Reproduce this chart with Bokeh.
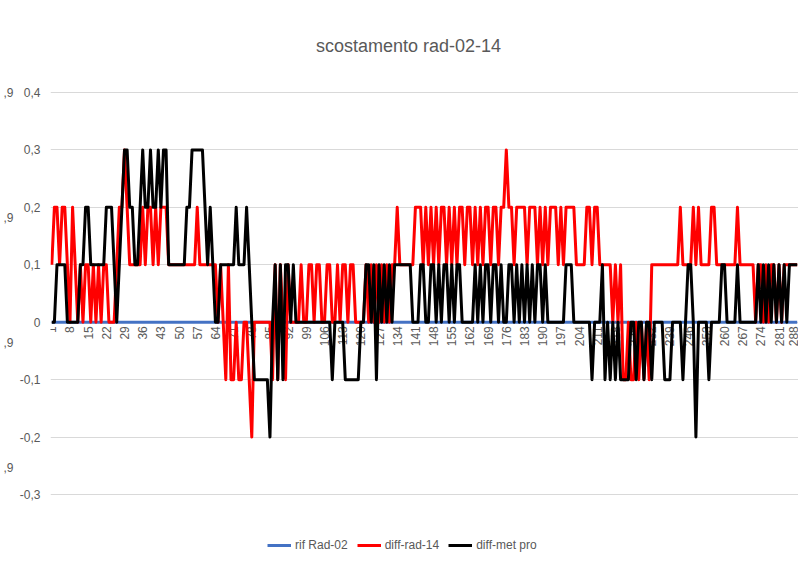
import math
from bokeh.plotting import figure
from bokeh.models import (FixedTicker, CustomJSTickFormatter, Legend, LegendItem,
                          Label, ColumnDataSource, Range1d, LinearAxis)
from bokeh.embed import file_html
from bokeh.resources import INLINE

# ---------------- data ----------------
categories = list(range(1, 289))

rif_rad_02 = [0.0] * 288

diff_rad_14 = [
    0.1, 0.2, 0.2, 0.1, 0.2, 0.2, 0.1,      # 1-7
    0.0, 0.2, 0.1, 0.0, 0.1, 0.0, 0.1,      # 8-14
    0.1, 0.0, 0.1, 0.0, 0.1, 0.0, 0.1,      # 15-21
    0.1, 0.0, 0.0, 0.0, 0.1, 0.2, 0.2,      # 22-28
    0.3, 0.2, 0.1, 0.1, 0.1, 0.1, 0.1,      # 29-35
    0.2, 0.1, 0.2, 0.2, 0.1, 0.2, 0.1,      # 36-42
    0.2, 0.2, 0.2, 0.1, 0.1, 0.1, 0.1,      # 43-49
    0.1, 0.1, 0.1, 0.1, 0.1, 0.1, 0.1,      # 50-56
    0.2, 0.1, 0.1, 0.1, 0.1, 0.1, 0.1,      # 57-63
    0.1, 0.0, 0.1, 0.0, -0.1, 0.1, -0.1,    # 64-70
    -0.1, 0.0, -0.1, -0.1, 0.0, 0.0, -0.1,  # 71-77
    -0.2, 0.0, 0.0, 0.0, 0.0, 0.0, 0.0,     # 78-84
    0.0, -0.1, 0.1, -0.1, 0.1, 0.0, -0.1,   # 85-91
    0.1, 0.0, 0.0, 0.0, 0.0, 0.1, 0.0,      # 92-98
    0.0, 0.1, 0.1, 0.0, 0.1, 0.1, 0.0,      # 99-105
    0.0, 0.1, 0.1, 0.0, 0.0, 0.1, 0.0,      # 106-112
    0.1, 0.1, 0.0, 0.1, 0.1, 0.0, 0.0,      # 113-119
    0.0, 0.0, 0.1, 0.0, 0.1, 0.0, 0.1,      # 120-126
    0.0, 0.1, 0.0, 0.1, 0.0, 0.1, 0.1,      # 127-133
    0.2, 0.1, 0.1, 0.1, 0.1, 0.1, 0.1,      # 134-140
    0.2, 0.2, 0.2, 0.1, 0.2, 0.1, 0.2,      # 141-147
    0.1, 0.2, 0.1, 0.2, 0.2, 0.1, 0.2,      # 148-154
    0.1, 0.2, 0.1, 0.2, 0.2, 0.1, 0.2,      # 155-161
    0.2, 0.1, 0.2, 0.1, 0.2, 0.1, 0.2,      # 162-168
    0.2, 0.1, 0.2, 0.2, 0.1, 0.2, 0.2,      # 169-175
    0.3, 0.2, 0.2, 0.1, 0.2, 0.2, 0.2,      # 176-182
    0.2, 0.1, 0.2, 0.2, 0.2, 0.1, 0.2,      # 183-189
    0.1, 0.2, 0.1, 0.2, 0.2, 0.2, 0.1,      # 190-196
    0.2, 0.1, 0.2, 0.2, 0.2, 0.2, 0.1,      # 197-203
    0.1, 0.1, 0.1, 0.2, 0.2, 0.1, 0.2,      # 204-210
    0.2, 0.1, 0.1, 0.1, 0.1, 0.1, 0.0,      # 211-217
    0.1, 0.0, 0.1, -0.1, -0.1, 0.0, -0.1,   # 218-224
    -0.1, 0.0, -0.1, 0.0, -0.1, 0.0, -0.1,  # 225-231
    0.1, 0.1, 0.1, 0.1, 0.1, 0.1, 0.1,      # 232-238
    0.1, 0.1, 0.1, 0.1, 0.2, 0.1, 0.1,      # 239-245
    0.1, 0.1, 0.2, 0.1, 0.2, 0.1, 0.1,      # 246-252
    0.1, 0.1, 0.2, 0.2, 0.1, 0.1, 0.1,      # 253-259
    0.1, 0.1, 0.1, 0.1, 0.1, 0.2, 0.1,      # 260-266
    0.1, 0.1, 0.1, 0.1, 0.1, 0.0, 0.1,      # 267-273
    0.1, 0.0, 0.1, 0.0, 0.1, 0.1, 0.0,      # 274-280
    0.1, 0.0, 0.1, 0.1, 0.1, 0.1, 0.1, 0.1, # 281-288
]

diff_met_pro = [
    0.0, 0.0, 0.1, 0.1, 0.1, 0.1, 0.0,      # 1-7
    0.0, 0.0, 0.0, 0.0, 0.1, 0.1, 0.2,      # 8-14
    0.2, 0.1, 0.1, 0.1, 0.1, 0.1, 0.1,      # 15-21
    0.2, 0.2, 0.2, 0.1, 0.0, 0.1, 0.2,      # 22-28
    0.3, 0.3, 0.2, 0.2, 0.1, 0.1, 0.2,      # 29-35
    0.3, 0.2, 0.2, 0.3, 0.2, 0.2, 0.3,      # 36-42
    0.2, 0.3, 0.3, 0.1, 0.1, 0.1, 0.1,      # 43-49
    0.1, 0.1, 0.1, 0.2, 0.2, 0.3, 0.3,      # 50-56
    0.3, 0.3, 0.3, 0.2, 0.1, 0.2, 0.1,      # 57-63
    0.0, 0.0, 0.1, 0.1, 0.1, 0.1, 0.1,      # 64-70
    0.1, 0.2, 0.1, 0.1, 0.1, 0.2, 0.1,      # 71-77
    0.0, -0.1, -0.1, -0.1, -0.1, -0.1, -0.1,  # 78-84
    -0.2, 0.0, 0.1, -0.1, 0.1, -0.1, 0.1,   # 85-91
    0.1, 0.0, 0.1, 0.0, 0.0, 0.0, 0.0,      # 92-98
    0.0, 0.0, 0.0, 0.0, 0.0, 0.0, 0.0,      # 99-105
    0.0, 0.0, 0.0, -0.1, 0.0, 0.0, 0.0,     # 106-112
    0.0, -0.1, -0.1, -0.1, -0.1, -0.1, -0.1,  # 113-119
    0.0, 0.0, 0.1, 0.1, 0.0, 0.1, -0.1,     # 120-126
    0.1, 0.0, 0.1, 0.0, 0.1, 0.0, 0.1,      # 127-133
    0.1, 0.1, 0.1, 0.1, 0.1, 0.1, 0.0,      # 134-140
    0.0, 0.0, 0.1, 0.1, 0.0, 0.0, 0.1,      # 141-147
    0.1, 0.0, 0.1, 0.0, 0.1, 0.1, 0.0,      # 148-154
    0.1, 0.0, 0.1, 0.1, 0.0, 0.0, 0.0,      # 155-161
    0.0, 0.0, 0.1, 0.0, 0.1, 0.0, 0.1,      # 162-168
    0.1, 0.0, 0.1, 0.1, 0.0, 0.1, 0.0,      # 169-175
    0.0, 0.1, 0.1, 0.0, 0.1, 0.0, 0.1,      # 176-182
    0.0, 0.1, 0.0, 0.1, 0.0, 0.1, 0.1,      # 183-189
    0.0, 0.1, 0.0, 0.0, 0.0, 0.0, 0.0,      # 190-196
    0.0, 0.0, 0.1, 0.1, 0.1, 0.0, 0.0,      # 197-203
    0.0, 0.0, 0.0, 0.0, 0.0, -0.1, 0.0,     # 204-210
    0.0, 0.0, 0.1, -0.1, 0.0, -0.1, 0.0,    # 211-217
    -0.1, 0.0, -0.1, -0.1, -0.1, -0.1, 0.0, # 218-224
    0.0, -0.1, 0.0, 0.0, -0.1, 0.0, 0.0,    # 225-231
    -0.1, 0.0, 0.0, 0.0, 0.0, -0.1, -0.1,   # 232-238
    -0.1, 0.0, 0.0, 0.0, 0.0, -0.1, 0.0,    # 239-245
    0.1, 0.1, 0.0, -0.2, 0.0, 0.0, 0.0,     # 246-252
    0.0, -0.1, 0.0, 0.0, 0.0, 0.0, 0.1,     # 253-259
    0.1, 0.0, 0.0, 0.0, 0.0, 0.1, 0.0,      # 260-266
    0.0, 0.0, 0.0, 0.0, 0.0, 0.0, 0.1,      # 267-273
    0.0, 0.1, 0.0, 0.1, 0.0, 0.1, 0.0,      # 274-280
    0.1, 0.0, 0.1, 0.0, 0.1, 0.1, 0.1, 0.1, # 281-288
]

x_tick_labels = [1, 8, 15, 22, 29, 36, 43, 50, 57, 64, 71, 78, 85, 92, 99, 106,
                 113, 120, 127, 134, 141, 148, 155, 162, 169, 176, 183, 190, 197,
                 204, 211, 218, 225, 232, 239, 246, 253, 260, 267, 274, 281, 288]
y_ticks = [-0.3, -0.2, -0.1, 0.0, 0.1, 0.2, 0.3, 0.4]
# fragment of a neighbouring axis, cut at the left edge of the screenshot
side_ticks = [0, 1, 2, 3]
side_label = ",9"

title_text = "scostamento rad-02-14"
series_names = ["rif Rad-02", "diff-rad-14", "diff-met pro"]
series_colors = ["#4472C4", "#FF0000", "#000000"]

# ---------------- layout (pixels) ----------------
W, H = 798, 564
LEFT = 50                 # plot area left edge
AXIS_TOP, AXIS_BOTTOM = 92, 494   # pixel rows of 0.4 and -0.3
Y_MIN, Y_MAX = -0.3, 0.4
ppu = (AXIS_BOTTOM - AXIS_TOP) / (Y_MAX - Y_MIN)   # pixels per unit
y_start = Y_MIN - (H - AXIS_BOTTOM) / ppu
y_end = Y_MAX + AXIS_TOP / ppu

side_ppu = 125.0
side_start = side_ticks[-1] - (H - AXIS_TOP) / side_ppu
side_end = side_ticks[-1] + AXIS_TOP / side_ppu

FONT = "Liberation Sans"
GRAY = "#595959"

p = figure(width=W, height=H, output_backend="svg", toolbar_location=None,
           x_range=Range1d(0.5, 288.5), y_range=Range1d(y_start, y_end),
           min_border_left=LEFT, min_border_right=0, min_border_top=0,
           min_border_bottom=0)
p.outline_line_color = None
p.background_fill_color = "white"
p.border_fill_color = "white"

# y axis
p.yaxis.ticker = FixedTicker(ticks=y_ticks)
p.yaxis.formatter = CustomJSTickFormatter(code="""
    const v = Math.round(tick * 10) / 10;
    if (v === 0) return '0';
    return v.toFixed(1).replace('.', ',');
""")
p.yaxis.axis_line_color = None
p.yaxis.major_tick_line_color = None
p.yaxis.minor_tick_line_color = None
p.yaxis.major_tick_out = 0
p.yaxis.minor_tick_out = 0
p.yaxis.major_tick_in = 0
p.yaxis.minor_tick_in = 0
p.yaxis.major_label_standoff = 10
p.yaxis.major_label_text_font = FONT
p.yaxis.major_label_text_font_size = "12px"
p.yaxis.major_label_text_color = GRAY

# cut-off neighbouring axis labels at the far left
p.extra_y_ranges = {"side": Range1d(side_start, side_end)}
side_axis = LinearAxis(y_range_name="side", ticker=FixedTicker(ticks=side_ticks),
                       formatter=CustomJSTickFormatter(code=f"return '{side_label}';"),
                       axis_line_color=None, major_tick_line_color=None,
                       minor_tick_line_color=None, major_tick_out=0,
                       minor_tick_out=0, major_tick_in=0, minor_tick_in=0,
                       major_label_standoff=3,
                       major_label_text_font=FONT, major_label_text_font_size="12px",
                       major_label_text_color=GRAY)
p.add_layout(side_axis, "left")

# x axis, crossing at zero
p.xaxis.fixed_location = 0
p.xaxis.ticker = FixedTicker(ticks=x_tick_labels)
p.xaxis.axis_line_color = None
p.xaxis.major_tick_line_color = None
p.xaxis.minor_tick_line_color = None
p.xaxis.major_tick_out = 0
p.xaxis.minor_tick_out = 0
p.xaxis.major_tick_in = 0
p.xaxis.minor_tick_in = 0
p.xaxis.major_label_orientation = math.pi / 2
p.xaxis.major_label_standoff = 4
p.xaxis.major_label_text_font = FONT
p.xaxis.major_label_text_font_size = "12px"
p.xaxis.major_label_text_color = GRAY
p.xaxis.level = "underlay"

p.xgrid.grid_line_color = None
p.ygrid.ticker = FixedTicker(ticks=y_ticks)
p.ygrid.grid_line_color = "#D9D9D9"
p.ygrid.grid_line_width = 1

source = ColumnDataSource(data=dict(x=categories, rif=rif_rad_02,
                                    rad=diff_rad_14, met=diff_met_pro))
renderers = []
for col, color in zip(["rif", "rad", "met"], series_colors):
    r = p.line("x", col, source=source, line_color=color, line_width=3,
               line_join="round")
    renderers.append(r)

legend = Legend(items=[LegendItem(label=n, renderers=[r])
                       for n, r in zip(series_names, renderers)],
                location=(268 - LEFT - 1, H - 555), orientation="horizontal",
                padding=0, margin=0, spacing=9, glyph_width=24,
                glyph_height=20, label_height=20, label_standoff=4,
                border_line_alpha=0, background_fill_alpha=0,
                label_text_font=FONT, label_text_font_size="12px",
                label_text_color=GRAY)
p.add_layout(legend, "center")

title = Label(x=408 - LEFT, y=H - 45, x_units="screen", y_units="screen",
              text=title_text, text_align="center", text_baseline="middle",
              text_font=FONT, text_font_size="18px", text_color=GRAY)
p.add_layout(title)

open("out.html", "w").write(file_html(p, INLINE))
